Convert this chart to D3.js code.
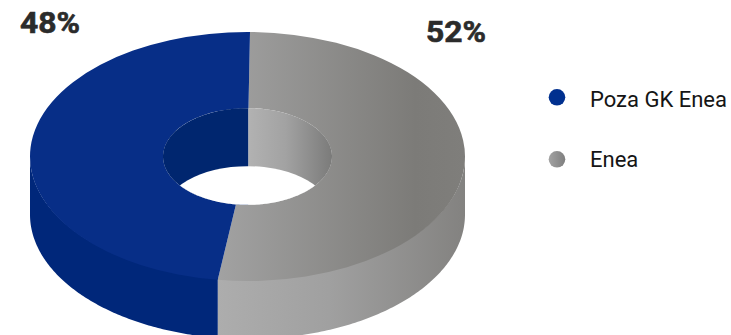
<!DOCTYPE html>
<html>
<head>
<meta charset="utf-8">
<script src="https://cdnjs.cloudflare.com/ajax/libs/d3/7.8.5/d3.min.js"></script>
<style>
  html, body { margin: 0; padding: 0; background: #fff; }
  svg { display: block; }
</style>
</head>
<body>
<svg id="chart" width="731" height="335"></svg>
<script>
// Share of the total, by group
const categories = ["Enea", "Poza GK Enea"];
const shares = [52, 48];
const legendOrder = ["Poza GK Enea", "Enea"];

// Ring geometry: an annulus seen in perspective, with a vertical wall
const cx = 247.5, cy = 156.5;
const outerR = 217.5, innerR = 84.5;
const squash = 124.5 / 217.5;
const depth = 58;
const tilt = 0.0115;
const wallOverlap = 1.5;

const colors = { "Poza GK Enea": "#072e87", "Enea": "url(#grayTop)" };
const wallColors = { "Poza GK Enea": "#00277a", "Enea": "url(#grayWall)" };
const holeColors = { "Poza GK Enea": "#00266f", "Enea": "url(#grayHole)" };

const svg = d3.select("#chart");
const defs = svg.append("defs");

function gradient(id, x1, x2, stops) {
  const g = defs.append("linearGradient").attr("id", id)
    .attr("gradientUnits", "userSpaceOnUse")
    .attr("x1", x1).attr("x2", x2).attr("y1", 0).attr("y2", 0);
  stops.forEach(([o, c]) => g.append("stop").attr("offset", o).attr("stop-color", c));
}
// The top face is drawn in a group centred on the ring, so its gradient runs in local x
gradient("grayTop", 218 - cx, 465 - cx, [[0, "#a2a2a2"], [0.8, "#7c7b78"], [1, "#7f7e7b"]]);
gradient("grayWall", 218, 465, [[0, "#adadad"], [0.45, "#a0a0a0"], [1, "#838280"]]);
gradient("grayHole", 248, 332, [[0, "#b2b2b2"], [0.45, "#a2a2a2"], [1, "#7b7b7a"]]);
gradient("grayDot", 549, 565, [[0, "#a2a2a2"], [1, "#7f7f7f"]]);

const pie = d3.pie().sort(null).value((d, i) => shares[i])
  .startAngle(tilt).endAngle(2 * Math.PI + tilt);
const slices = pie(categories);

const px = (a, r) => cx + r * Math.sin(a);
const py = (a, r) => cy - r * Math.cos(a) * squash;

// Hole outline, used to clip everything seen through the ring
const holeLine = d3.line().curve(d3.curveLinearClosed);
const holePts = d3.range(0, 360).map(i => {
  const a = i * Math.PI / 180;
  return [px(a, innerR), py(a, innerR)];
});
defs.append("clipPath").attr("id", "holeClip")
  .append("path").attr("d", holeLine(holePts));

// Outer wall: the lower half of each slice extruded downward,
// tucked slightly under the top face so no pale seam shows along the rim
const frontStart = Math.PI / 2, frontEnd = 3 * Math.PI / 2;
const wall = svg.append("g");
slices.forEach(s => {
  const a0 = Math.max(s.startAngle, frontStart);
  const a1 = Math.min(s.endAngle, frontEnd);
  if (a1 <= a0) return;
  const n = 120;
  const angles = d3.range(n + 1).map(i => a0 + (a1 - a0) * i / n);
  const top = angles.map(a => [px(a, outerR), py(a, outerR) - wallOverlap * Math.abs(Math.cos(a))]);
  const bottom = angles.slice().reverse().map(a => [px(a, outerR), py(a, outerR) + depth]);
  wall.append("path")
    .attr("d", d3.line().curve(d3.curveLinearClosed)(top.concat(bottom)))
    .attr("fill", wallColors[s.data]);
});

// Top face
const arc = d3.arc().innerRadius(innerR).outerRadius(outerR);
svg.append("g")
  .attr("transform", `translate(${cx},${cy}) scale(1,${squash})`)
  .selectAll("path")
  .data(slices)
  .join("path")
  .attr("d", arc)
  .attr("fill", d => colors[d.data]);

// Inner wall seen through the hole, then the opening at the bottom of the ring
const hole = svg.append("g").attr("clip-path", "url(#holeClip)");
const seamX = px(tilt, innerR);
hole.append("rect")
  .attr("x", cx - innerR - 1).attr("y", cy - innerR)
  .attr("width", seamX - cx + innerR + 1).attr("height", 2 * innerR)
  .attr("fill", holeColors["Poza GK Enea"]);
hole.append("rect")
  .attr("x", seamX).attr("y", cy - innerR)
  .attr("width", cx + innerR + 1 - seamX).attr("height", 2 * innerR)
  .attr("fill", holeColors["Enea"]);
hole.append("ellipse")
  .attr("cx", cx).attr("cy", cy + depth)
  .attr("rx", innerR).attr("ry", innerR * squash)
  .attr("fill", "#fff");

// Percentage labels
const valueLabels = svg.append("g")
  .attr("font-family", "'Roboto', sans-serif")
  .attr("font-weight", 700)
  .attr("font-size", 29)
  .attr("fill", "#2b2b2b")
  .attr("stroke", "#2b2b2b")
  .attr("stroke-width", 0.6);
valueLabels.append("text").attr("x", 20).attr("y", 33)
  .attr("textLength", 60).attr("lengthAdjust", "spacingAndGlyphs")
  .text(shares[1] + "%");
valueLabels.append("text").attr("x", 426).attr("y", 42)
  .attr("textLength", 60).attr("lengthAdjust", "spacingAndGlyphs")
  .text(shares[0] + "%");

// Legend
const dotY = d3.scalePoint().domain(legendOrder).range([97.3, 159.3]);
const textY = d3.scalePoint().domain(legendOrder).range([107, 167]);
const legend = svg.append("g").selectAll("g")
  .data(legendOrder).join("g");
legend.append("circle").attr("cx", 557).attr("cy", d => dotY(d)).attr("r", 8.3)
  .attr("fill", d => d === "Enea" ? "url(#grayDot)" : "#00308f");
legend.append("text").attr("x", 590).attr("y", d => textY(d))
  .attr("font-family", "'Roboto', sans-serif")
  .attr("font-size", 22)
  .attr("fill", "#151515")
  .text(d => d);
</script>
</body>
</html>
